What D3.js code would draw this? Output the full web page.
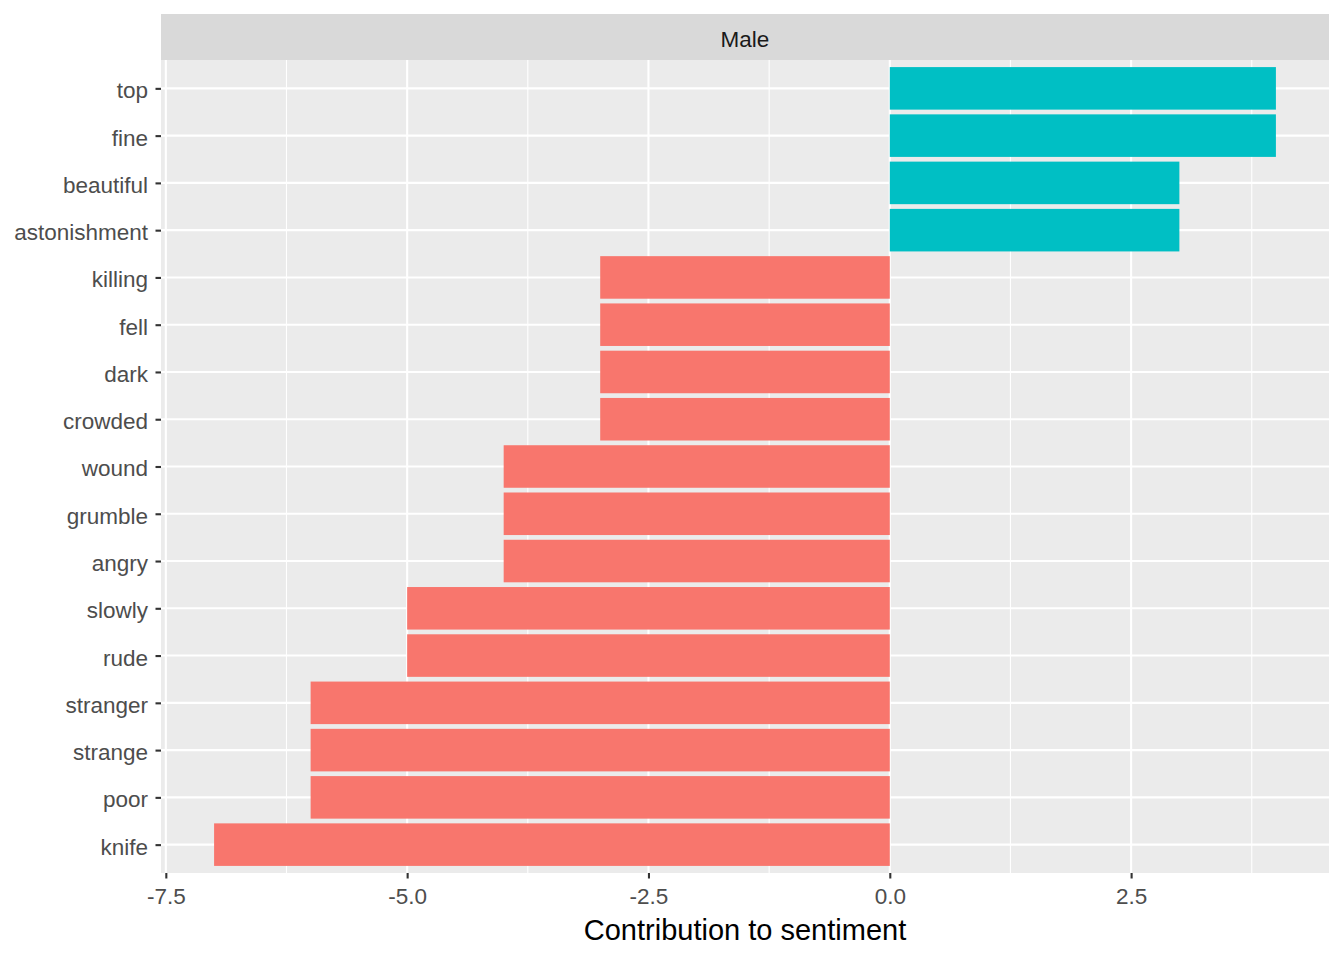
<!DOCTYPE html>
<html>
<head>
<meta charset="utf-8">
<script src="https://cdn.jsdelivr.net/npm/d3@7"></script>
<style>
  body { margin: 0; background: #fff; }
  svg { font-family: "Liberation Sans", Arial, sans-serif; }
</style>
</head>
<body>
<div id="chart"></div>
<script>
// words from top to bottom
const words = ['top', 'fine', 'beautiful', 'astonishment', 'killing', 'fell', 'dark', 'crowded',
  'wound', 'grumble', 'angry', 'slowly', 'rude', 'stranger', 'strange', 'poor', 'knife']
const contributions = [4, 4, 3, 3, -3, -3, -3, -3, -4, -4, -4, -5, -5, -6, -6, -6, -7]
const xTicks = [-7.5, -5.0, -2.5, 0.0, 2.5]
const xMinor = [-6.25, -3.75, -1.25, 1.25, 3.75]
const facetLabel = 'Male'
const xTitle = 'Contribution to sentiment'

const W = 1344
const H = 960
const panel = { left: 161, right: 1329, top: 60, bottom: 873 }
const stripTop = 14

const svg = d3.select('#chart').append('svg')
  .attr('width', W)
  .attr('height', H)

// x scale with ggplot-like 5% expansion
const xMin = d3.min(contributions)
const xMax = d3.max(contributions)
const pad = (xMax - xMin) * 0.05
const x = d3.scaleLinear()
  .domain([xMin - pad, xMax + pad])
  .range([panel.left, panel.right])

// discrete y with 0.6 expansion on each side
const n = words.length
const step = (panel.bottom - panel.top) / (n - 1 + 1.2)
const y = d3.scalePoint()
  .domain(words)
  .range([panel.top + 0.6 * step, panel.bottom - 0.6 * step])
const barH = step * 0.9

// strip
svg.append('rect')
  .attr('x', panel.left).attr('y', stripTop)
  .attr('width', panel.right - panel.left).attr('height', panel.top - stripTop)
  .attr('fill', '#d9d9d9')
svg.append('text')
  .attr('x', (panel.left + panel.right) / 2)
  .attr('y', (stripTop + panel.top) / 2 + 2)
  .attr('dy', '0.35em')
  .attr('text-anchor', 'middle')
  .attr('fill', '#1a1a1a')
  .style('font-size', '22.5px')
  .text(facetLabel)

// panel background
svg.append('rect')
  .attr('x', panel.left).attr('y', panel.top)
  .attr('width', panel.right - panel.left).attr('height', panel.bottom - panel.top)
  .attr('fill', '#ebebeb')

const grid = svg.append('g')
grid.selectAll('.minor')
  .data(xMinor)
  .enter().append('line')
  .attr('x1', d => x(d)).attr('x2', d => x(d))
  .attr('y1', panel.top).attr('y2', panel.bottom)
  .attr('stroke', '#fff').attr('stroke-width', 1.1)
grid.selectAll('.majorx')
  .data(xTicks)
  .enter().append('line')
  .attr('x1', d => x(d)).attr('x2', d => x(d))
  .attr('y1', panel.top).attr('y2', panel.bottom)
  .attr('stroke', '#fff').attr('stroke-width', 2.1)
grid.selectAll('.majory')
  .data(words)
  .enter().append('line')
  .attr('x1', panel.left).attr('x2', panel.right)
  .attr('y1', d => y(d)).attr('y2', d => y(d))
  .attr('stroke', '#fff').attr('stroke-width', 2.1)

// bars
svg.selectAll('.bar')
  .data(words.map((w, i) => ({ word: w, value: contributions[i] })))
  .enter().append('rect')
  .attr('class', 'bar')
  .attr('x', d => x(Math.min(0, d.value)))
  .attr('width', d => Math.abs(x(d.value) - x(0)))
  .attr('y', d => y(d.word) - barH / 2)
  .attr('height', barH)
  .attr('fill', d => d.value > 0 ? '#00bfc4' : '#f8766d')

// axes
const xAxis = svg.append('g')
  .attr('transform', 'translate(0,' + panel.bottom + ')')
  .call(d3.axisBottom(x).tickValues(xTicks).tickSize(5.5).tickPadding(10))
xAxis.select('.domain').remove()
xAxis.selectAll('line').attr('stroke', '#333').attr('stroke-width', 2.1)
xAxis.selectAll('text').attr('fill', '#4d4d4d').style('font-size', '22.5px')
  .style('font-family', '"Liberation Sans", Arial, sans-serif')
  .text(d => d3.format('.1f')(d).replace('−', '-'))

const yAxis = svg.append('g')
  .attr('transform', 'translate(' + panel.left + ',0)')
  .call(d3.axisLeft(y).tickSize(5.5).tickPadding(7.5))
yAxis.select('.domain').remove()
yAxis.selectAll('line').attr('stroke', '#333').attr('stroke-width', 2.1)
yAxis.selectAll('text').attr('fill', '#4d4d4d').style('font-size', '22.5px')
  .style('font-family', '"Liberation Sans", Arial, sans-serif')
  .attr('dy', '0.42em')

svg.append('text')
  .attr('x', (panel.left + panel.right) / 2)
  .attr('y', 940)
  .attr('text-anchor', 'middle')
  .attr('fill', '#000')
  .style('font-size', '29px')
  .text(xTitle)
</script>
</body>
</html>
